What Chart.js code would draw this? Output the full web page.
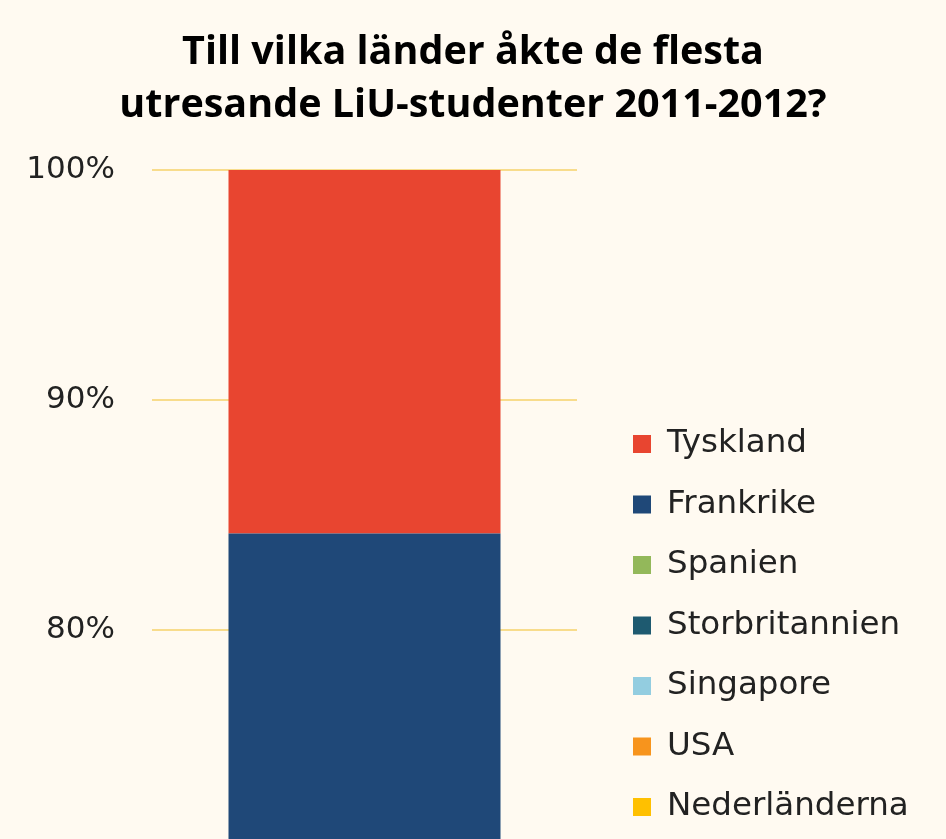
<!DOCTYPE html>
<html>
<head>
<meta charset="utf-8">
<script src="https://cdn.jsdelivr.net/npm/chart.js@4"></script>
<style>
    html, body { margin: 0; padding: 0; background: #fffaf1; overflow: hidden; }
    #wrap { position: relative; width: 946px; height: 906px; }
</style>
</head>
<body>
<div id="wrap"><canvas id="grafico"></canvas></div>
<script>
    // stacked from bottom to top, legend shows them reversed
    const categories = ['2011-2012'];
    const countries = ['Nederländerna', 'USA', 'Singapore', 'Storbritannien', 'Spanien', 'Frankrike', 'Tyskland'];
    const shares = [8.2, 11.0, 12.0, 13.0, 19.0, 21.0, 15.8];
    const colors = ['#ffc000', '#f7941d', '#93cde0', '#1e5a70', '#93b85a', '#1f4878', '#e84530'];
    const tickValues = [80, 90, 100];
    const yMin = 70.43;
    const yMax = 100;

    // legend drawn at the right of the plot, top entry first
    const sideLegend = {
        id: 'sideLegend',
        afterDraw(chart) {
            const { ctx, chartArea } = chart;
            const box = 18;
            const x0 = chartArea.right + 56;
            const y0 = 444;
            const step = 60.5;
            ctx.save();
            ctx.font = '32.5px "DejaVu Sans"';
            ctx.textBaseline = 'middle';
            ctx.textAlign = 'left';
            chart.data.datasets.slice().reverse().forEach((ds, i) => {
                const cy = y0 + i * step;
                ctx.fillStyle = ds.backgroundColor;
                ctx.fillRect(x0, cy - box / 2, box, box);
                ctx.fillStyle = '#222';
                ctx.fillText(ds.label, x0 + box + 16, cy);
            });
            ctx.restore();
        }
    };

    const datasets = countries.map((name, i) => ({
        label: name,
        data: [shares[i]],
        backgroundColor: colors[i],
        borderWidth: 0,
        barPercentage: 0.8,
        categoryPercentage: 0.8
    }));

    new Chart(document.getElementById('grafico'), {
        type: 'bar',
        data: { labels: categories, datasets },
        options: {
            responsive: true,
            maintainAspectRatio: false,
            animation: false,
            layout: { padding: 0 },
            plugins: {
                title: {
                    display: true,
                    text: ['Till vilka länder åkte de flesta', 'utresande LiU-studenter 2011-2012?'],
                    color: '#000',
                    font: { family: 'Open Sans', weight: 'bold', size: 39.5, lineHeight: 53 / 39.5 },
                    padding: { top: 26.5, bottom: 37.5 }
                },
                legend: { display: false },
                tooltip: { enabled: false }
            },
            scales: {
                x: {
                    stacked: true,
                    display: false
                },
                y: {
                    stacked: true,
                    min: yMin,
                    max: yMax,
                    afterBuildTicks: axis => {
                        axis.ticks = tickValues.map(v => ({ value: v }));
                    },
                    afterFit: axis => { axis.width = 152; },
                    border: { display: false },
                    grid: { color: '#f8dc8c', lineWidth: 2, drawTicks: false },
                    ticks: {
                        color: '#222',
                        padding: 37,
                        font: { family: 'DejaVu Sans', size: 31 },
                        callback: v => v + '%'
                    }
                },
                // empty axis that keeps room for the legend
                side: {
                    position: 'right',
                    display: true,
                    border: { display: false },
                    grid: { display: false, drawTicks: false },
                    ticks: { display: false },
                    afterFit: axis => { axis.width = 369; }
                }
            }
        },
        plugins: [sideLegend]
    });
</script>
</body>
</html>
